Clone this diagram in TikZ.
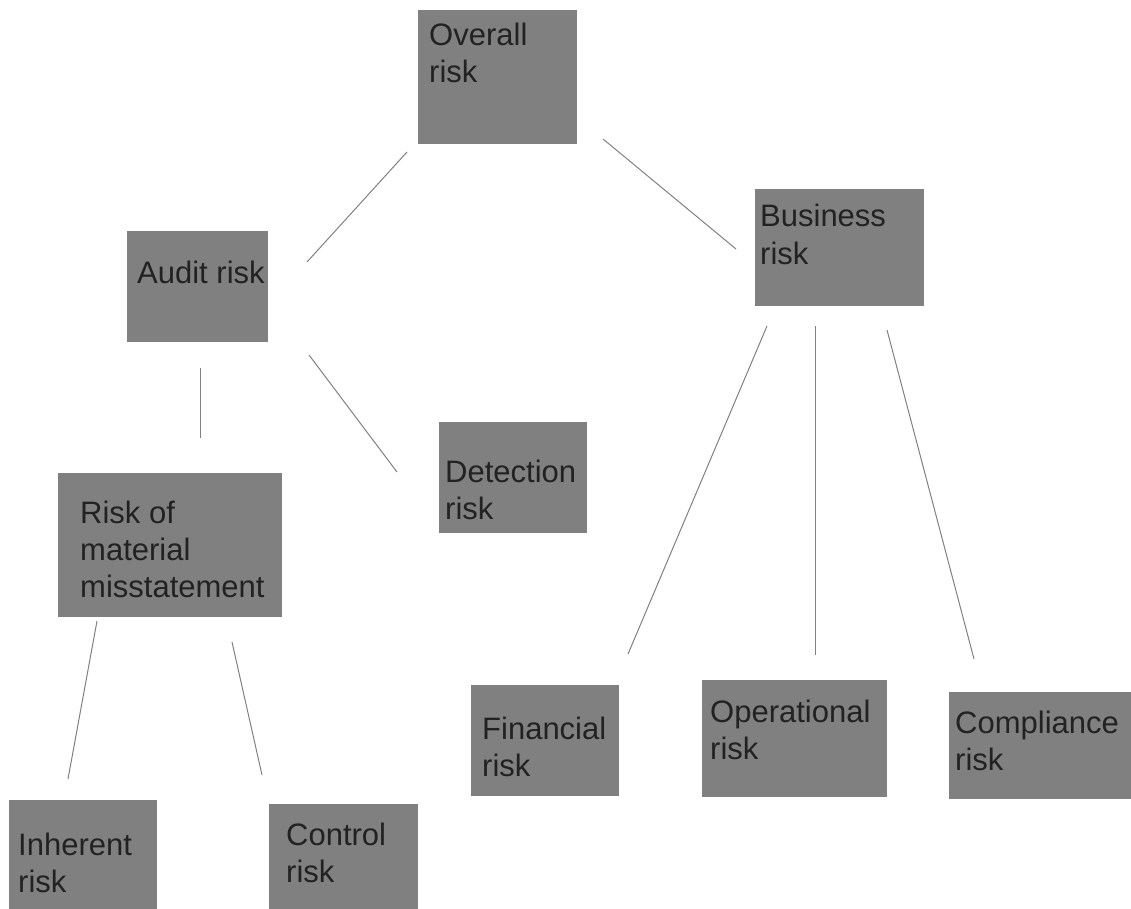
\documentclass[tikz,border=0pt]{standalone}
\usepackage{fontspec}
\setmainfont{Liberation Sans}
\usepackage{xcolor}
\usepackage{tikz}

\definecolor{boxgray}{HTML}{808080}
\definecolor{inkgray}{HTML}{222222}
\definecolor{linkgray}{HTML}{808080}

\begin{document}
\begin{tikzpicture}[x=1pt, y=-1pt,
    box/.style={fill=boxgray, inner sep=0pt, outer sep=0pt, anchor=north west},
    txt/.style={text=inkgray, align=left, anchor=base west, inner sep=0pt,
                font=\fontsize{31}{37}\selectfont},
    link/.style={linkgray, line width=1pt}]
\useasboundingbox (0,0) rectangle (1131,909);

% boxes: name / left / top / width / height
\foreach \n/\x/\y/\w/\h in {overall/418/10/159/134, audit/127/231/141/111,
    business/755/189/169/117, detection/439/422/148/111, rmm/58/473/224/144,
    inherent/9/800/148/109, control/269/804/149/105, financial/471/685/148/111,
    operational/702/680/185/117, compliance/949/692/182/107}{
    \node[box, minimum width=\w pt, minimum height=\h pt] (\n) at (\x,\y) {};
}

% labels (placed on the baseline of their last line)
\node[txt] (overall-t)     at (429,83)  {Overall\\risk};
\node[txt] (audit-t)       at (137,283) {Audit risk};
\node[txt] (business-t)    at (760,264) {Business\\risk};
\node[txt] (detection-t)   at (445,519) {Detection\\risk};
\node[txt] (rmm-t)         at (80,597)  {Risk of\\material\\misstatement};
\node[txt] (inherent-t)    at (18,892)  {Inherent\\risk};
\node[txt] (control-t)     at (286,882) {Control\\risk};
\node[txt] (financial-t)   at (482,776) {Financial\\risk};
\node[txt] (operational-t) at (710,759) {Operational\\risk};
\node[txt] (compliance-t)  at (955,770) {Compliance\\risk};

% connectors, free-standing between the boxes
\foreach \a/\b/\c/\d [count=\i] in {407/152/307/262, 603/139/736/249,
    200/368/200/438, 309/355/397/472, 97/621/68/779, 232/642/262/775,
    767/326/628/654, 815/326/815/655, 887/330/974/659}{
    \coordinate (s\i) at (\a,\b);
    \coordinate (e\i) at (\c,\d);
    \draw[link] (s\i) -- (e\i);
}
\end{tikzpicture}
\end{document}
